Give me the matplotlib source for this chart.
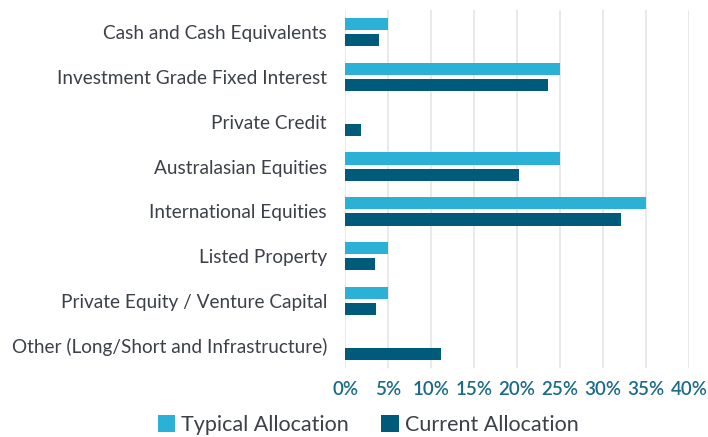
import matplotlib.pyplot as plt
import numpy as np

# -----------------------------
# DATA
# -----------------------------
categories = [
    "Cash and Cash Equivalents",
    "Investment Grade Fixed Interest",
    "Private Credit",
    "Australasian Equities",
    "International Equities",
    "Listed Property",
    "Private Equity / Venture Capital",
    "Other (Long/Short and Infrastructure)",
]
typical = [5, 25, 0, 25, 35, 5, 5, 0]
current = [4.0, 23.6, 1.9, 20.2, 32.1, 3.5, 3.6, 11.2]
xticks = [0, 5, 10, 15, 20, 25, 30, 35, 40]

LIGHT = "#2BB0D6"
DARK = "#005B7A"
LABEL = "#3C4048"
TICK = "#1B6A88"

plt.rcParams["font.family"] = ["Lato", "DejaVu Sans"]

fig = plt.figure(figsize=(7.08, 4.37), dpi=100)
ax = fig.add_axes([0.4873, 0.157, 0.486, 0.821])

y = np.arange(len(categories))
h = 0.27
ax.barh(y - 0.18, typical, height=h, color=LIGHT, label="Typical Allocation", zorder=3)
ax.barh(y + 0.18, current, height=h, color=DARK, label="Current Allocation", zorder=3)

ax.set_ylim(len(categories) - 0.5, -0.5)
ax.set_xlim(0, 40)
ax.set_yticks(y)
ax.set_yticklabels(categories, fontsize=13.7, color=LABEL)
ax.set_xticks(xticks)
ax.set_xticklabels([f"{t}%" for t in xticks], fontsize=13.5, color=TICK, fontweight="semibold")
ax.tick_params(length=0)
ax.tick_params(axis="y", pad=13)
ax.tick_params(axis="x", pad=9)
ax.grid(True, axis="x", color="#E3E6E8", linewidth=1.2, zorder=0)
for s in ax.spines.values():
    s.set_visible(False)

fig.legend(loc="lower center", bbox_to_anchor=(0.52, -0.025), ncol=2, frameon=False,
           fontsize=15.5, handlelength=0.8, handleheight=0.8, handletextpad=0.3,
           columnspacing=1.5, labelcolor=LABEL, borderaxespad=0.2)

fig.savefig("out.png", dpi=100)
